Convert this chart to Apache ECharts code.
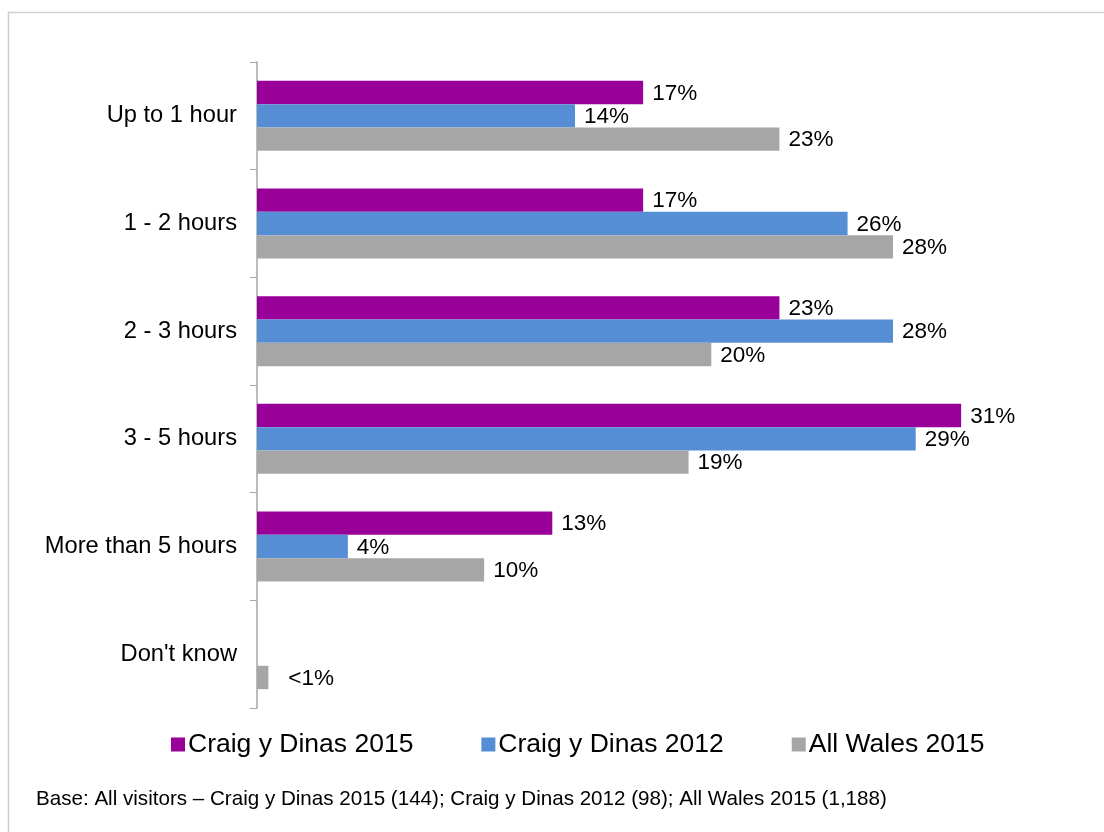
<!DOCTYPE html>
<html>
<head>
<meta charset="utf-8">
<script src="https://cdn.jsdelivr.net/npm/echarts@6/dist/echarts.min.js"></script>
<style>
html,body{margin:0;padding:0;background:#fff;}
#chart{width:1104px;height:832px;}
</style>
</head>
<body>
<div id="chart"></div>
<script>
const categories = ["Up to 1 hour", "1 - 2 hours", "2 - 3 hours", "3 - 5 hours", "More than 5 hours", "Don't know"];
const seriesNames = ["Craig y Dinas 2015", "Craig y Dinas 2012", "All Wales 2015"];
const craig2015 = [17, 17, 23, 31, 13, null];
const craig2012 = [14, 26, 28, 29, 4, null];
const wales2015 = [23, 28, 20, 19, 10, 0.5];
const wales2015Labels = ["23%", "28%", "20%", "19%", "10%", "<1%"];
const colors = ["#990099", "#558ED5", "#A6A6A6"];
const footnote = "Base: All visitors \u2013 Craig y Dinas 2015 (144); Craig y Dinas 2012 (98); All Wales 2015 (1,188)";

const FONT = "'Liberation Sans', Arial, sans-serif";
const chart = echarts.init(document.getElementById('chart'), null, {renderer: 'canvas'});

function mkSeries(name, data, color, labels) {
  return {
    name: name,
    type: 'bar',
    data: data.map((v, i) => {
      const item = {value: v};
      if (labels && labels[i] === "<1%") {
        item.label = {distance: 20};
      }
      return item;
    }),
    itemStyle: {color: color},
    barGap: '0%',
    barCategoryGap: '35%',
    label: {
      show: true,
      position: 'right',
      distance: 9,
      color: '#000',
      fontFamily: FONT,
      fontSize: 22.5,
      offset: [0, 1],
      formatter: function (p) {
        if (p.value == null) return '';
        return labels ? labels[p.dataIndex] : p.value + '%';
      }
    }
  };
}

chart.setOption({
  animation: false,
  backgroundColor: '#fff',
  color: colors,
  graphic: [{
    type: 'rect',
    shape: {x: 8.5, y: 12.5, width: 1200, height: 900},
    style: {fill: 'none', stroke: '#D0D0D0', lineWidth: 1.5},
    silent: true
  }, {
    type: 'text',
    left: 36,
    top: 789,
    style: {text: footnote, font: '20.6px ' + FONT, fill: '#000'}
  }],
  legend: {
    data: seriesNames,
    left: 166,
    top: 726,
    itemWidth: 14,
    itemHeight: 14,
    itemGap: 68,
    icon: 'rect',
    textStyle: {fontFamily: FONT, fontSize: 26.5, color: '#000', padding: [0, 0, 0, -2]}
  },
  grid: {left: 257, top: 62, right: 52, bottom: 124, containLabel: false},
  xAxis: {
    type: 'value',
    min: 0,
    max: 35,
    show: false
  },
  yAxis: {
    type: 'category',
    data: categories,
    inverse: true,
    axisLine: {show: true, lineStyle: {color: '#A6A6A6', width: 1.5}},
    axisTick: {show: true, length: 7, lineStyle: {color: '#A6A6A6'}},
    axisLabel: {fontFamily: FONT, fontSize: 23.7, color: '#000', margin: 20}
  },
  series: [
    mkSeries(seriesNames[0], craig2015, colors[0]),
    mkSeries(seriesNames[1], craig2012, colors[1]),
    mkSeries(seriesNames[2], wales2015, colors[2], wales2015Labels)
  ]
});
</script>
</body>
</html>
